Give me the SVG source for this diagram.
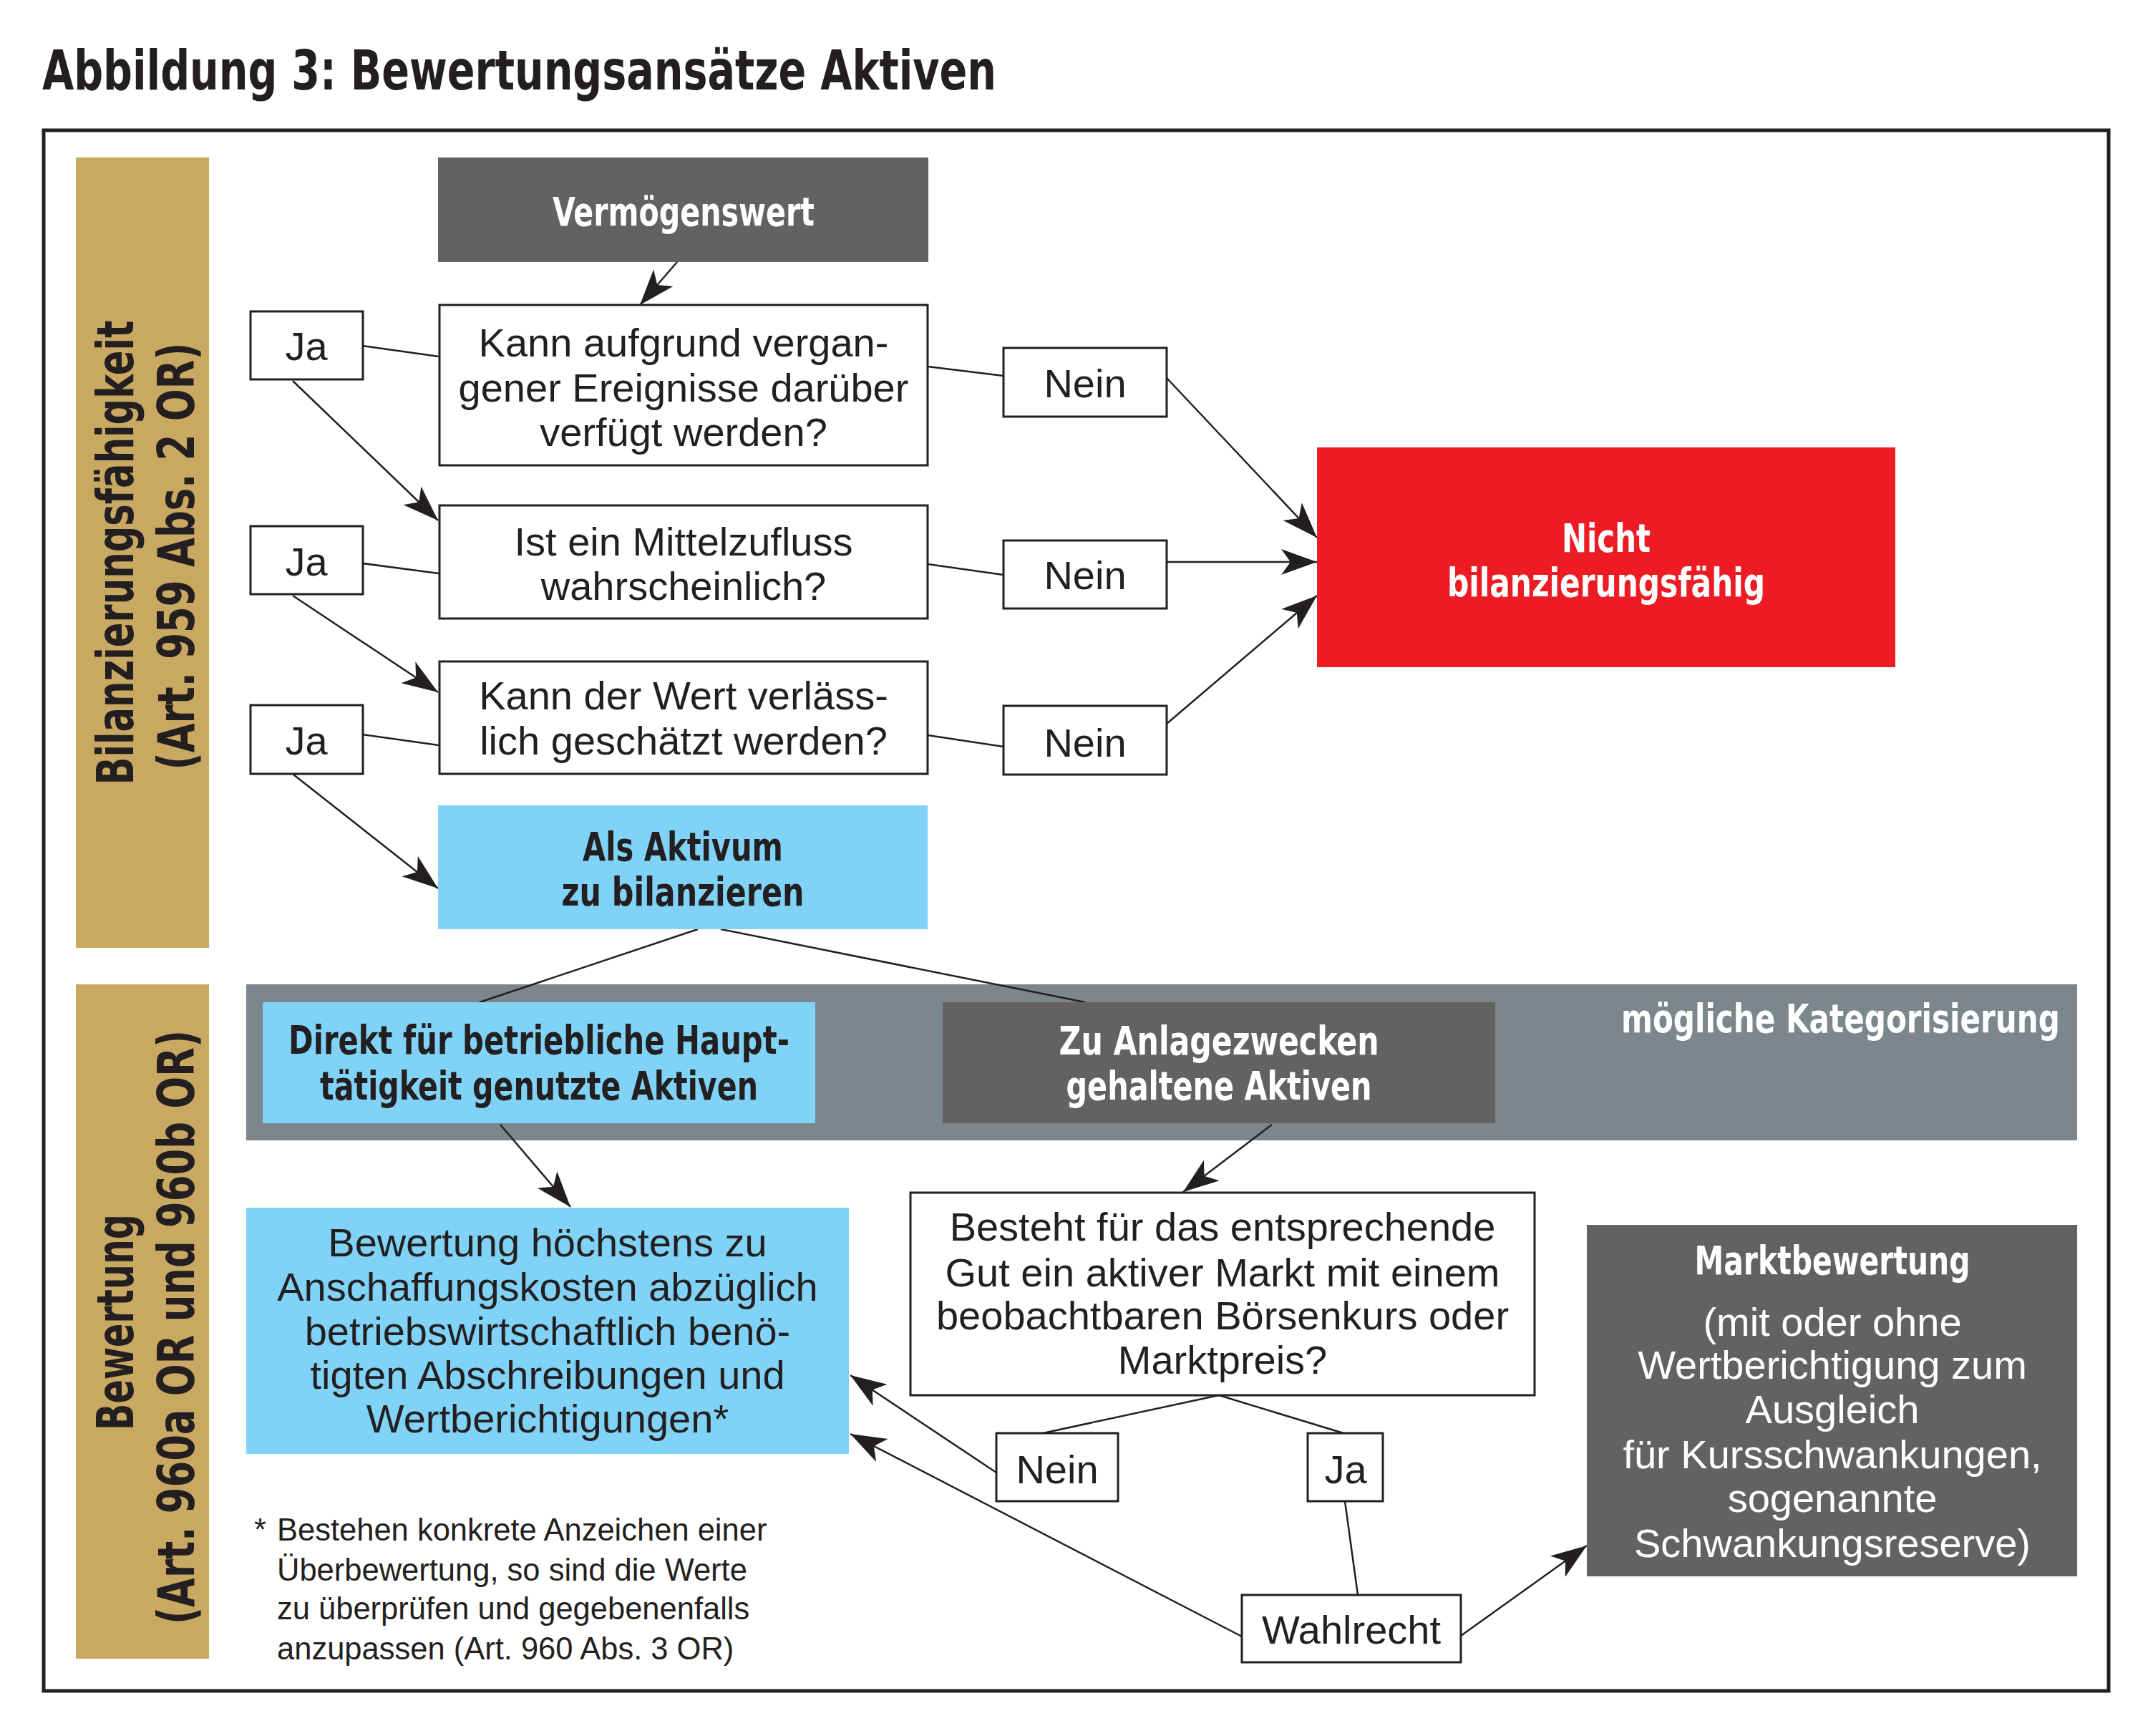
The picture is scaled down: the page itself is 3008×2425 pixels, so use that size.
<svg xmlns="http://www.w3.org/2000/svg" width="3008" height="2425" viewBox="0 0 3008 2425">
<style>
.reg{font-family:'Liberation Sans',Arial,sans-serif;font-size:56px;fill:#231f20;text-anchor:middle}
.regw{font-family:'Liberation Sans',Arial,sans-serif;font-size:56px;fill:#ffffff;text-anchor:middle}
.bold{font-family:'Liberation Sans Narrow','DejaVu Sans Condensed','Liberation Sans',sans-serif;font-weight:bold;font-size:56px;text-anchor:middle}
.side{font-family:'Liberation Sans Narrow','DejaVu Sans Condensed','Liberation Sans',sans-serif;font-weight:bold;font-size:72px;fill:#231f20;text-anchor:middle}
.foot{font-family:'Liberation Sans',Arial,sans-serif;font-size:43.5px;fill:#231f20}
.box{fill:#ffffff;stroke:#231f20;stroke-width:3}
.ln{fill:none;stroke:#231f20;stroke-width:2.5}
.arr{fill:none;stroke:#231f20;stroke-width:2.5;marker-end:url(#ah)}
</style>
<defs>
<marker id="ah" viewBox="0 0 50 40" refX="50" refY="20" markerWidth="50" markerHeight="40" markerUnits="userSpaceOnUse" orient="auto">
<path d="M0,2 L50,20 L0,38 L13,20 Z" fill="#231f20"/>
</marker>
</defs>
<rect x="0" y="0" width="3008" height="2425" fill="#ffffff"/>
<text x="59" y="125" font-family="'Liberation Sans Narrow','DejaVu Sans Condensed','Liberation Sans',sans-serif" font-weight="bold" font-size="77" fill="#231f20" textLength="1333" lengthAdjust="spacingAndGlyphs">Abbildung 3: Bewertungsansätze Aktiven</text>
<rect x="61" y="182" width="2885" height="2180" fill="none" stroke="#231f20" stroke-width="5"/>

<g id="band-bilanz">
<rect x="106" y="220" width="186" height="1104" fill="#c9a862"/>
<text class="side" transform="translate(186,772) rotate(-90)" textLength="649" lengthAdjust="spacingAndGlyphs">Bilanzierungsfähigkeit</text>
<text class="side" transform="translate(271,777) rotate(-90)" textLength="597" lengthAdjust="spacingAndGlyphs">(Art. 959 Abs. 2 OR)</text>
</g>
<g id="band-bewertung">
<rect x="106" y="1375" width="186" height="942" fill="#c9a862"/>
<text class="side" transform="translate(186,1847) rotate(-90)" textLength="302" lengthAdjust="spacingAndGlyphs">Bewertung</text>
<text class="side" transform="translate(271,1854) rotate(-90)" textLength="830" lengthAdjust="spacingAndGlyphs">(Art. 960a OR und 960b OR)</text>
</g>
<g id="kategorisierung">
<rect x="344" y="1375" width="2558" height="218" fill="#7b868d"/>
<text class="bold" x="2265" y="1442" fill="#ffffff" style="text-anchor:start" textLength="613" lengthAdjust="spacingAndGlyphs">mögliche Kategorisierung</text>
</g>

<g id="connectors">
<line class="arr" x1="946" y1="366" x2="894" y2="426"/>
<line class="ln" x1="507" y1="483" x2="613" y2="498"/>
<line class="ln" x1="507" y1="787" x2="613" y2="801"/>
<line class="ln" x1="507" y1="1026" x2="613" y2="1041"/>
<line class="arr" x1="409" y1="532" x2="612" y2="727"/>
<line class="arr" x1="409" y1="832" x2="612" y2="967"/>
<line class="arr" x1="410" y1="1082" x2="612" y2="1241"/>
<line class="ln" x1="1296" y1="512" x2="1402" y2="525"/>
<line class="ln" x1="1296" y1="788" x2="1402" y2="803"/>
<line class="ln" x1="1296" y1="1027" x2="1402" y2="1043"/>
<line class="arr" x1="1630" y1="528" x2="1840" y2="751"/>
<line class="arr" x1="1630" y1="785" x2="1840" y2="785"/>
<line class="arr" x1="1630" y1="1011" x2="1840" y2="832"/>
<line class="ln" x1="975" y1="1298" x2="670" y2="1400"/>
<line class="ln" x1="1007" y1="1298" x2="1516" y2="1400"/>
<line class="arr" x1="699" y1="1571" x2="797" y2="1686"/>
<line class="arr" x1="1777" y1="1571" x2="1653" y2="1665"/>
<line class="ln" x1="1703" y1="1949" x2="1457" y2="2002"/>
<line class="ln" x1="1703" y1="1949" x2="1877" y2="2002"/>
<line class="ln" x1="1879" y1="2097" x2="1897" y2="2228"/>
<line class="arr" x1="1392" y1="2057" x2="1188" y2="1921"/>
<line class="arr" x1="1735" y1="2286" x2="1188" y2="2003"/>
<line class="arr" x1="2041" y1="2285" x2="2217" y2="2159"/>
</g>

<g id="vermoegenswert">
<rect x="612" y="220" width="685" height="146" fill="#636261"/>
<text class="bold" x="955" y="315" fill="#ffffff" textLength="366" lengthAdjust="spacingAndGlyphs">Vermögenswert</text>
</g>
<g id="frage1">
<rect class="box" x="614" y="426" width="682" height="224"/>
<text class="reg" x="955" y="498">Kann aufgrund vergan-</text>
<text class="reg" x="955" y="561">gener Ereignisse darüber</text>
<text class="reg" x="955" y="623">verfügt werden?</text>
</g>
<g id="frage2">
<rect class="box" x="614" y="706" width="682" height="158"/>
<text class="reg" x="955" y="776">Ist ein Mittelzufluss</text>
<text class="reg" x="955" y="838">wahrscheinlich?</text>
</g>
<g id="frage3">
<rect class="box" x="614" y="924" width="682" height="157"/>
<text class="reg" x="955" y="991">Kann der Wert verläss-</text>
<text class="reg" x="955" y="1054">lich geschätzt werden?</text>
</g>
<g id="ja1"><rect class="box" x="350" y="435" width="157" height="95"/><text class="reg" x="428" y="503">Ja</text></g>
<g id="ja2"><rect class="box" x="350" y="735" width="157" height="95"/><text class="reg" x="428" y="804">Ja</text></g>
<g id="ja3"><rect class="box" x="350" y="985" width="157" height="96"/><text class="reg" x="428" y="1054">Ja</text></g>
<g id="nein1"><rect class="box" x="1402" y="486" width="228" height="96"/><text class="reg" x="1516" y="555">Nein</text></g>
<g id="nein2"><rect class="box" x="1402" y="755" width="228" height="95"/><text class="reg" x="1516" y="823">Nein</text></g>
<g id="nein3"><rect class="box" x="1402" y="986" width="228" height="96"/><text class="reg" x="1516" y="1057">Nein</text></g>
<g id="nicht-bilanzierungsfaehig">
<rect x="1840" y="625" width="808" height="307" fill="#ed1c24"/>
<text class="bold" x="2244" y="771" fill="#ffffff" textLength="124" lengthAdjust="spacingAndGlyphs">Nicht</text>
<text class="bold" x="2244" y="833" fill="#ffffff" textLength="444" lengthAdjust="spacingAndGlyphs">bilanzierungsfähig</text>
</g>
<g id="als-aktivum">
<rect x="612" y="1125" width="684" height="173" fill="#80d3f6"/>
<text class="bold" x="954" y="1202" fill="#231f20" textLength="280" lengthAdjust="spacingAndGlyphs">Als Aktivum</text>
<text class="bold" x="954" y="1265" fill="#231f20" textLength="339" lengthAdjust="spacingAndGlyphs">zu bilanzieren</text>
</g>
<g id="direkt">
<rect x="367" y="1400" width="772" height="169" fill="#80d3f6"/>
<text class="bold" x="753" y="1472" fill="#231f20" textLength="700" lengthAdjust="spacingAndGlyphs">Direkt für betriebliche Haupt-</text>
<text class="bold" x="753" y="1536" fill="#231f20" textLength="612" lengthAdjust="spacingAndGlyphs">tätigkeit genutzte Aktiven</text>
</g>
<g id="anlagezwecke">
<rect x="1317" y="1400" width="772" height="169" fill="#636261"/>
<text class="bold" x="1703" y="1473" fill="#ffffff" textLength="447" lengthAdjust="spacingAndGlyphs">Zu Anlagezwecken</text>
<text class="bold" x="1703" y="1536" fill="#ffffff" textLength="427" lengthAdjust="spacingAndGlyphs">gehaltene Aktiven</text>
</g>
<g id="bewertung-anschaffung">
<rect x="344" y="1687" width="842" height="344" fill="#80d3f6"/>
<text class="reg" x="765" y="1755">Bewertung höchstens zu</text>
<text class="reg" x="765" y="1817">Anschaffungskosten abzüglich</text>
<text class="reg" x="765" y="1879">betriebswirtschaftlich benö-</text>
<text class="reg" x="765" y="1940">tigten Abschreibungen und</text>
<text class="reg" x="765" y="2001">Wertberichtigungen*</text>
</g>
<g id="besteht">
<rect class="box" x="1272" y="1666" width="872" height="283"/>
<text class="reg" x="1708" y="1733">Besteht für das entsprechende</text>
<text class="reg" x="1708" y="1797">Gut ein aktiver Markt mit einem</text>
<text class="reg" x="1708" y="1857">beobachtbaren Börsenkurs oder</text>
<text class="reg" x="1708" y="1919">Marktpreis?</text>
</g>
<g id="nein-markt"><rect class="box" x="1392" y="2002" width="170" height="95"/><text class="reg" x="1477" y="2072">Nein</text></g>
<g id="ja-markt"><rect class="box" x="1827" y="2002" width="105" height="95"/><text class="reg" x="1880" y="2072">Ja</text></g>
<g id="wahlrecht"><rect class="box" x="1735" y="2228" width="306" height="94"/><text class="reg" x="1888" y="2296">Wahlrecht</text></g>
<g id="marktbewertung">
<rect x="2217" y="1711" width="685" height="491" fill="#636261"/>
<text class="bold" x="2560" y="1780" fill="#ffffff" textLength="385" lengthAdjust="spacingAndGlyphs">Marktbewertung</text>
<text class="regw" x="2560" y="1866">(mit oder ohne</text>
<text class="regw" x="2560" y="1926">Wertberichtigung zum</text>
<text class="regw" x="2560" y="1988">Ausgleich</text>
<text class="regw" x="2560" y="2051">für Kursschwankungen,</text>
<text class="regw" x="2560" y="2112">sogenannte</text>
<text class="regw" x="2560" y="2175">Schwankungsreserve)</text>
</g>
<g id="fussnote">
<text class="foot" x="355" y="2152">*</text>
<text class="foot" x="387" y="2152">Bestehen konkrete Anzeichen einer</text>
<text class="foot" x="387" y="2208">Überbewertung, so sind die Werte</text>
<text class="foot" x="387" y="2262">zu überprüfen und gegebenenfalls</text>
<text class="foot" x="387" y="2318">anzupassen (Art. 960 Abs. 3 OR)</text>
</g>
</svg>
